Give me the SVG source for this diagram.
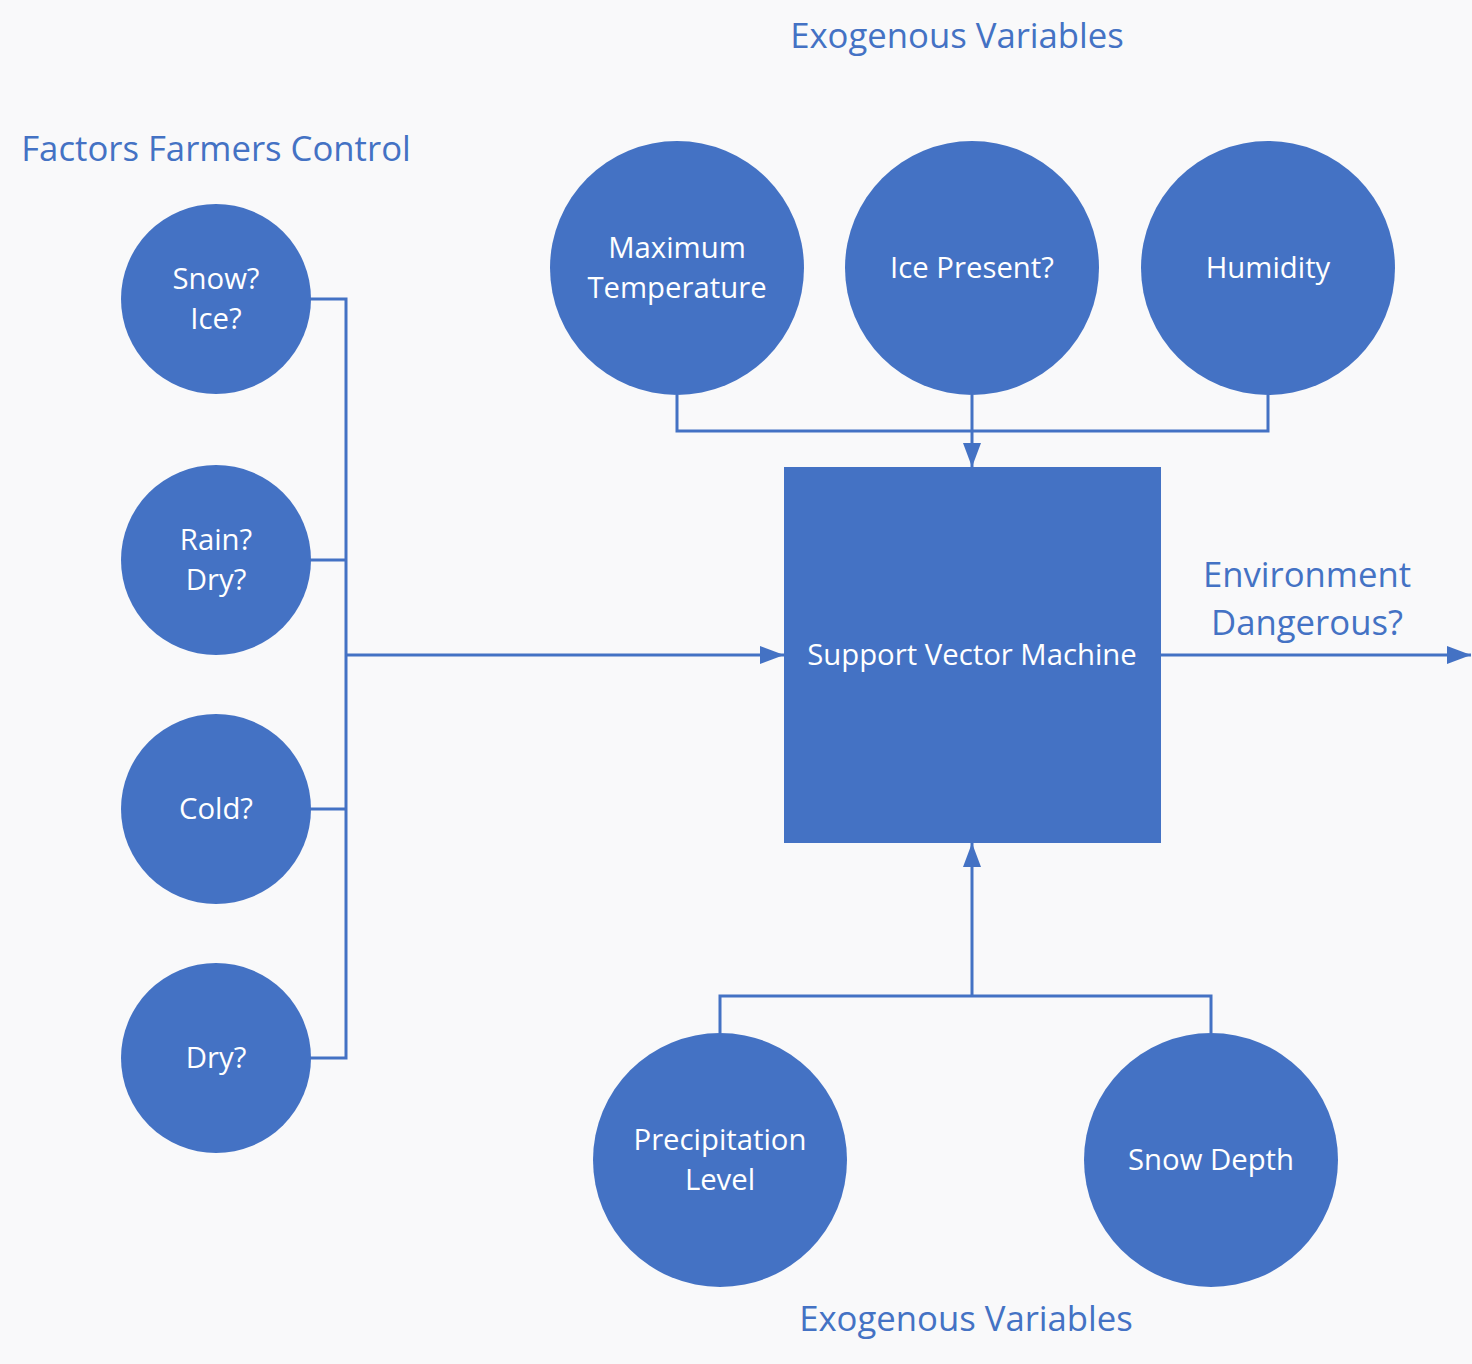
<svg xmlns="http://www.w3.org/2000/svg" width="1472" height="1364" viewBox="0 0 1472 1364">
<style>
.n{fill:#4472C4}
.t{fill:#fff;font-family:"Open Sans","Noto Sans",sans-serif;font-size:29.3px;text-anchor:middle}
.h{fill:#4472C4;font-family:"Open Sans","Noto Sans",sans-serif;font-size:34.7px;text-anchor:middle}
.c{fill:none;stroke:#4472C4;stroke-width:3}
</style>
<defs>
<marker id="b" viewBox="0 0 24 24" refX="24" refY="12" markerWidth="24" markerHeight="24" orient="auto" markerUnits="userSpaceOnUse">
<path d="M0,3L24,12L0,21z" fill="#4472C4"/>
</marker>
</defs>
<rect width="1472" height="1364" fill="#F9F9FA"/>
<text class="h" x="957" y="48">Exogenous Variables</text>
<text class="h" x="216" y="161">Factors Farmers Control</text>
<text class="h" x="1307" y="587">Environment</text>
<text class="h" x="1307" y="635">Dangerous?</text>
<text class="h" x="966" y="1331">Exogenous Variables</text>
<g id="connectors">
<path class="c" d="M310,299H346V1058H310M310,560H346M310,809H346"/>
<path class="c" d="M346,655H784" marker-end="url(#b)"/>
<path class="c" d="M677,395V431H1268V395"/>
<path class="c" d="M972,395V467" marker-end="url(#b)"/>
<path class="c" d="M1161,655H1471" marker-end="url(#b)"/>
<path class="c" d="M720,1033V996H1211V1033"/>
<path class="c" d="M972,996V843" marker-end="url(#b)"/>
</g>
<g id="snow-ice"><circle class="n" cx="216" cy="299" r="95"/><text class="t" x="216" y="289">Snow?</text><text class="t" x="216" y="329">Ice?</text></g>
<g id="rain-dry"><circle class="n" cx="216" cy="560" r="95"/><text class="t" x="216" y="550">Rain?</text><text class="t" x="216" y="590">Dry?</text></g>
<g id="cold"><circle class="n" cx="216" cy="809" r="95"/><text class="t" x="216" y="819">Cold?</text></g>
<g id="dry"><circle class="n" cx="216" cy="1058" r="95"/><text class="t" x="216" y="1068">Dry?</text></g>
<g id="max-temp"><circle class="n" cx="677" cy="268" r="127"/><text class="t" x="677" y="258">Maximum</text><text class="t" x="677" y="298">Temperature</text></g>
<g id="ice-present"><circle class="n" cx="972" cy="268" r="127"/><text class="t" x="972" y="278">Ice Present?</text></g>
<g id="humidity"><circle class="n" cx="1268" cy="268" r="127"/><text class="t" x="1268" y="278">Humidity</text></g>
<g id="svm"><rect class="n" x="784" y="467" width="377" height="376"/><text class="t" x="972" y="665">Support Vector Machine</text></g>
<g id="precip"><circle class="n" cx="720" cy="1160" r="127"/><text class="t" x="720" y="1150">Precipitation</text><text class="t" x="720" y="1190">Level</text></g>
<g id="snow-depth"><circle class="n" cx="1211" cy="1160" r="127"/><text class="t" x="1211" y="1170">Snow Depth</text></g>
</svg>
